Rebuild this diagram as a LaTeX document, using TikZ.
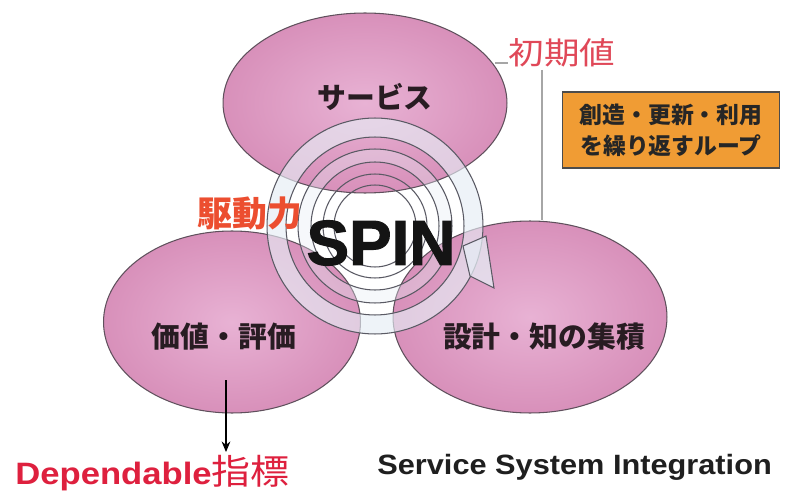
\documentclass[tikz,border=0pt]{standalone}
\usepackage{fontspec}
\setmainfont{Liberation Sans}
\newfontfamily\jp{Noto Sans CJK JP}
\newfontfamily\heavysans[FakeBold=1.6]{Liberation Sans Bold}
\usetikzlibrary{shapes.geometric,arrows.meta}
\definecolor{pinkA}{RGB}{232,178,212}
\definecolor{pinkB}{RGB}{216,144,186}
\definecolor{lineGray}{RGB}{95,80,92}
\definecolor{ringGray}{RGB}{90,90,100}
\definecolor{bandCol}{RGB}{230,237,245}
\definecolor{txtDark}{RGB}{40,28,34}
\definecolor{redInit}{RGB}{224,72,88}
\definecolor{redDrive}{RGB}{236,78,48}
\definecolor{redDep}{RGB}{222,32,62}
\definecolor{boxOrange}{RGB}{240,156,52}
\tikzset{
  blob/.style={ellipse, draw=lineGray, line width=0.6pt, inner color=pinkA, outer color=pinkB, inner sep=0pt},
  blobtext/.style={text=txtDark, font=\jp\bfseries\fontsize{16.4pt}{18pt}\selectfont, inner sep=0pt},
  ringline/.style={draw=ringGray, line width=0.6pt},
  leader/.style={draw=gray!70, line width=0.6pt},
  loopbox/.style={draw=black!70, line width=0.8pt, fill=boxOrange, minimum width=4.34cm, minimum height=1.52cm, inner sep=0pt, align=center, text=black!85, font=\jp\bfseries\fontsize{13pt}{17.5pt}\selectfont}
}
\begin{document}
\begin{tikzpicture}[x=0.02cm,y=-0.02cm]
\useasboundingbox (0,0) rectangle (785,500);
\fill[white] (0,0) rectangle (785,500);

% three ellipses
\node[blob, minimum width=5.68cm, minimum height=3.6cm] (topE) at (365,103) {};
\node[blob, minimum width=5.14cm, minimum height=3.64cm] (leftE) at (232,322) {};
\node[blob, minimum width=5.48cm, minimum height=3.84cm] (rightE) at (530,317) {};

% spin ring
\coordinate (rc) at (375,226);
\fill[bandCol, opacity=0.65, even odd rule] (rc) circle[radius=2.16cm] (rc) circle[radius=1.78cm];
\fill[bandCol, opacity=0.35, even odd rule] (rc) circle[radius=1.54cm] (rc) circle[radius=1.28cm];
\foreach \r in {2.16,1.78,1.54,1.28,1.04,0.82}
  \draw[ringline] (rc) circle[radius=\r cm];
\filldraw[fill=bandCol, fill opacity=0.75, draw=ringGray, line width=0.6pt]
  (486,236) -- (494,288) -- (470,276) -- (463,246) -- cycle;

% labels in ellipses
\node[blobtext] (svcT) at (375,97) {サービス};
\node[blobtext] (valT) at (224,337) {価値・評価};
\node[blobtext] (desT) at (544,337) {設計・知の集積};

% centre texts
\node[inner sep=0pt, text=black!92, font=\heavysans\fontsize{36.3pt}{40pt}\selectfont] (spin) at (381,243) {SPIN};
\node[inner sep=0pt, text=redDrive, font=\jp\bfseries\fontsize{19.8pt}{22pt}\selectfont] (drive) at (250,213) {駆動力};

% initial value label with leaders
\node[inner sep=0pt, text=redInit, font=\jp\fontsize{17.6pt}{20pt}\selectfont] (init) at (562,53) {\scalebox{1.15}[1]{初期値}};
\coordinate (iniL) at (495,63);
\coordinate (iniV) at (542,70);
\draw[leader] (iniL) -- (init.west |- iniL);
\draw[leader] (iniV) -- (iniV |- rightE.north);

% orange box
\node[loopbox] (loop) at (671,130) {創造・更新・利用\\を繰り返すループ};

% dependable arrow
\coordinate (arrS) at (226,380);
\coordinate (arrE) at (226,452);
\draw[line width=0.6pt, -{Stealth[length=6pt,width=5pt]}] (arrS) -- (arrE);
\node[anchor=base west, inner sep=0pt, text=redDep, font=\bfseries\fontsize{17.6pt}{20pt}\selectfont] (dep) at (15,484)
  {\scalebox{1.12}[1]{Dependable{\jp\mdseries\fontsize{19.8pt}{22pt}\selectfont 指標}}};

\node[anchor=base west, inner sep=0pt, text=black!88, font=\bfseries\fontsize{15.9pt}{18pt}\selectfont] (ssi) at (377,474)
  {\scalebox{1.1}[1]{Service System Integration}};
\end{tikzpicture}
\end{document}
